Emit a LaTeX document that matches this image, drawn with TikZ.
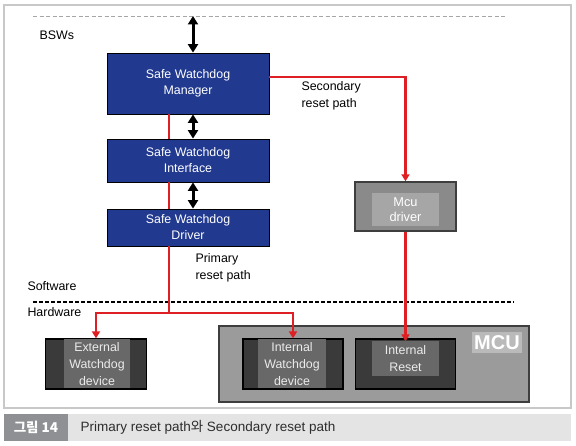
\documentclass[tikz,border=0pt]{standalone}
\usepackage{fontspec}
\setmainfont{Liberation Sans}
\newfontfamily\kr{Noto Sans CJK KR}
\usepackage{tikz}
\usetikzlibrary{arrows.meta, positioning, calc}
\definecolor{swblue}{RGB}{33,57,143}
\definecolor{pathred}{RGB}{222,32,36}
\definecolor{framegray}{RGB}{200,200,200}
\definecolor{mcufill}{RGB}{155,155,155}
\definecolor{mcuedge}{RGB}{62,62,62}
\definecolor{drvfill}{RGB}{138,138,138}
\definecolor{drvinner}{RGB}{166,166,166}
\definecolor{hwfill}{RGB}{58,58,58}
\definecolor{hwinner}{RGB}{104,104,104}
\definecolor{lblfill}{RGB}{186,186,186}
\definecolor{capfill}{RGB}{228,228,228}
\definecolor{captag}{RGB}{142,144,148}
\definecolor{captext}{RGB}{45,45,45}
\tikzset{
  swbox/.style={rectangle, draw=black, fill=swblue, line width=0.8pt,
    minimum width=162pt, text=white, align=center,
    font=\fontsize{12.4}{16}\selectfont},
  hwbox/.style={rectangle, draw=black, fill=hwfill, line width=1.2pt,
    minimum width=101pt, minimum height=50pt},
  hwcore/.style={rectangle, fill=hwinner, text=white!92!black, align=center,
    font=\fontsize{12.4}{17}\selectfont, inner sep=0pt},
  lbl/.style={anchor=west, align=left, text=black,
    font=\fontsize{12.4}{17}\selectfont},
  redline/.style={draw=pathred, line width=2.4pt},
  redarrow/.style={draw=pathred, line width=2.4pt,
    -{Triangle[length=7pt,width=8pt]}},
  dblarrow/.style={draw=black, line width=3pt,
    {Triangle[length=8.5pt,width=10pt]}-{Triangle[length=8.5pt,width=10pt]}}
}

\begin{document}
\begin{tikzpicture}[x=1pt, y=-1pt]
  \useasboundingbox (0,0) rectangle (576,446);
  % outer frame
  \draw[framegray, line width=1.5pt] (4,5) rectangle (571,408);

  % layer borders
  \draw[gray!70, line width=0.8pt, dash pattern=on 4pt off 2.5pt] (33,16) -- (505,16);
  \draw[black, line width=1.6pt, dash pattern=on 4pt off 2pt] (33,302) -- (514,302);
  \node[lbl] (bsws) at (36,35) {BSWs};
  \node[lbl] (sw) at (24,286) {Software};
  \node[lbl] (hw) at (24,312) {Hardware};

  % software stack
  \node[swbox, minimum height=61pt] (mgr) at (188,83.5) {Safe Watchdog\\Manager};
  \node[swbox, minimum height=43pt] (intf) at (188,160.5) {Safe Watchdog\\Interface};
  \node[swbox, minimum height=37pt] (drv) at (188,227.5) {Safe Watchdog\\Driver};

  % Mcu driver
  \node[rectangle, draw=mcuedge, fill=drvfill, line width=1.4pt,
    minimum width=101pt, minimum height=49pt] (mcudrv) at (405.5,206.5) {};
  \node[hwcore, fill=drvinner, text=white, minimum width=67pt, minimum height=33pt,
    font=\fontsize{12.8}{15}\selectfont] (mcudrvtxt) at (405.5,209.5) {Mcu\\driver};

  % hardware
  \node[rectangle, draw=mcuedge, fill=mcufill, line width=1.4pt,
    minimum width=310pt, minimum height=76pt] (mcu) at (374,364) {};
  \node[rectangle, fill=lblfill, text=white, minimum width=50pt, minimum height=21pt,
    inner sep=0pt, font=\fontsize{20}{20}\selectfont\bfseries] (mculbl) at (497,342.5) {MCU};

  \node[hwbox] (extwd) at (96,364) {};
  \node[hwcore, minimum width=66pt, minimum height=49pt] (extwdtxt) at (97,364)
    {External\\Watchdog\\device};
  \node[hwbox, minimum width=100pt] (intwd) at (293,364) {};
  \node[hwcore, minimum width=68pt, minimum height=49pt] (intwdtxt) at (292,364)
    {Internal\\Watchdog\\device};
  \node[hwbox, minimum width=100pt] (intrst) at (405.5,364) {};
  \node[hwcore, minimum width=67pt, minimum height=35pt] (intrsttxt) at (405.5,358.5)
    {Internal\\Reset};

  % interfaces between layers
  \coordinate (bsw) at (193,16);
  \draw[dblarrow] (bsw) -- (mgr.north -| bsw);
  \draw[dblarrow] (mgr.south -| bsw) -- (intf.north -| bsw);
  \draw[dblarrow] (intf.south -| bsw) -- (drv.north -| bsw);

  % primary reset path
  \coordinate (split) at (169,313);
  \draw[redline] (mgr.south -| split) -- (intf.north -| split);
  \draw[redline] (intf.south -| split) -- (drv.north -| split);
  \draw[redline] (drv.south -| split) -- (split);
  \draw[redarrow] (split) -| (extwd.north);
  \draw[redarrow] (split) -| (intwd.north);
  \node[lbl] (prim) at (192,267.5) {Primary\\reset path};

  % secondary reset path
  \draw[redarrow] ([yshift=6.5pt]mgr.east) -| (mcudrv.north);
  \draw[redarrow] (mcudrv.south) -- ([yshift=-3pt]intrst.north);
  \node[lbl] (sec) at (298,96) {Secondary\\reset path};

  % caption
  \fill[capfill] (4,414) rectangle (571,441);
  \node[rectangle, fill=captag, text=white, minimum width=64pt, minimum height=27pt,
    inner sep=0pt, font=\fontsize{13.5}{13.5}\selectfont\bfseries] (tag) at (36,427.5)
    {\kr 그림 14};
  \node[anchor=west, text=captext, font=\fontsize{13.5}{13.5}\selectfont] (cap) at (77,427.5)
    {Primary reset path{\kr 와} Secondary reset path};
\end{tikzpicture}
\end{document}
